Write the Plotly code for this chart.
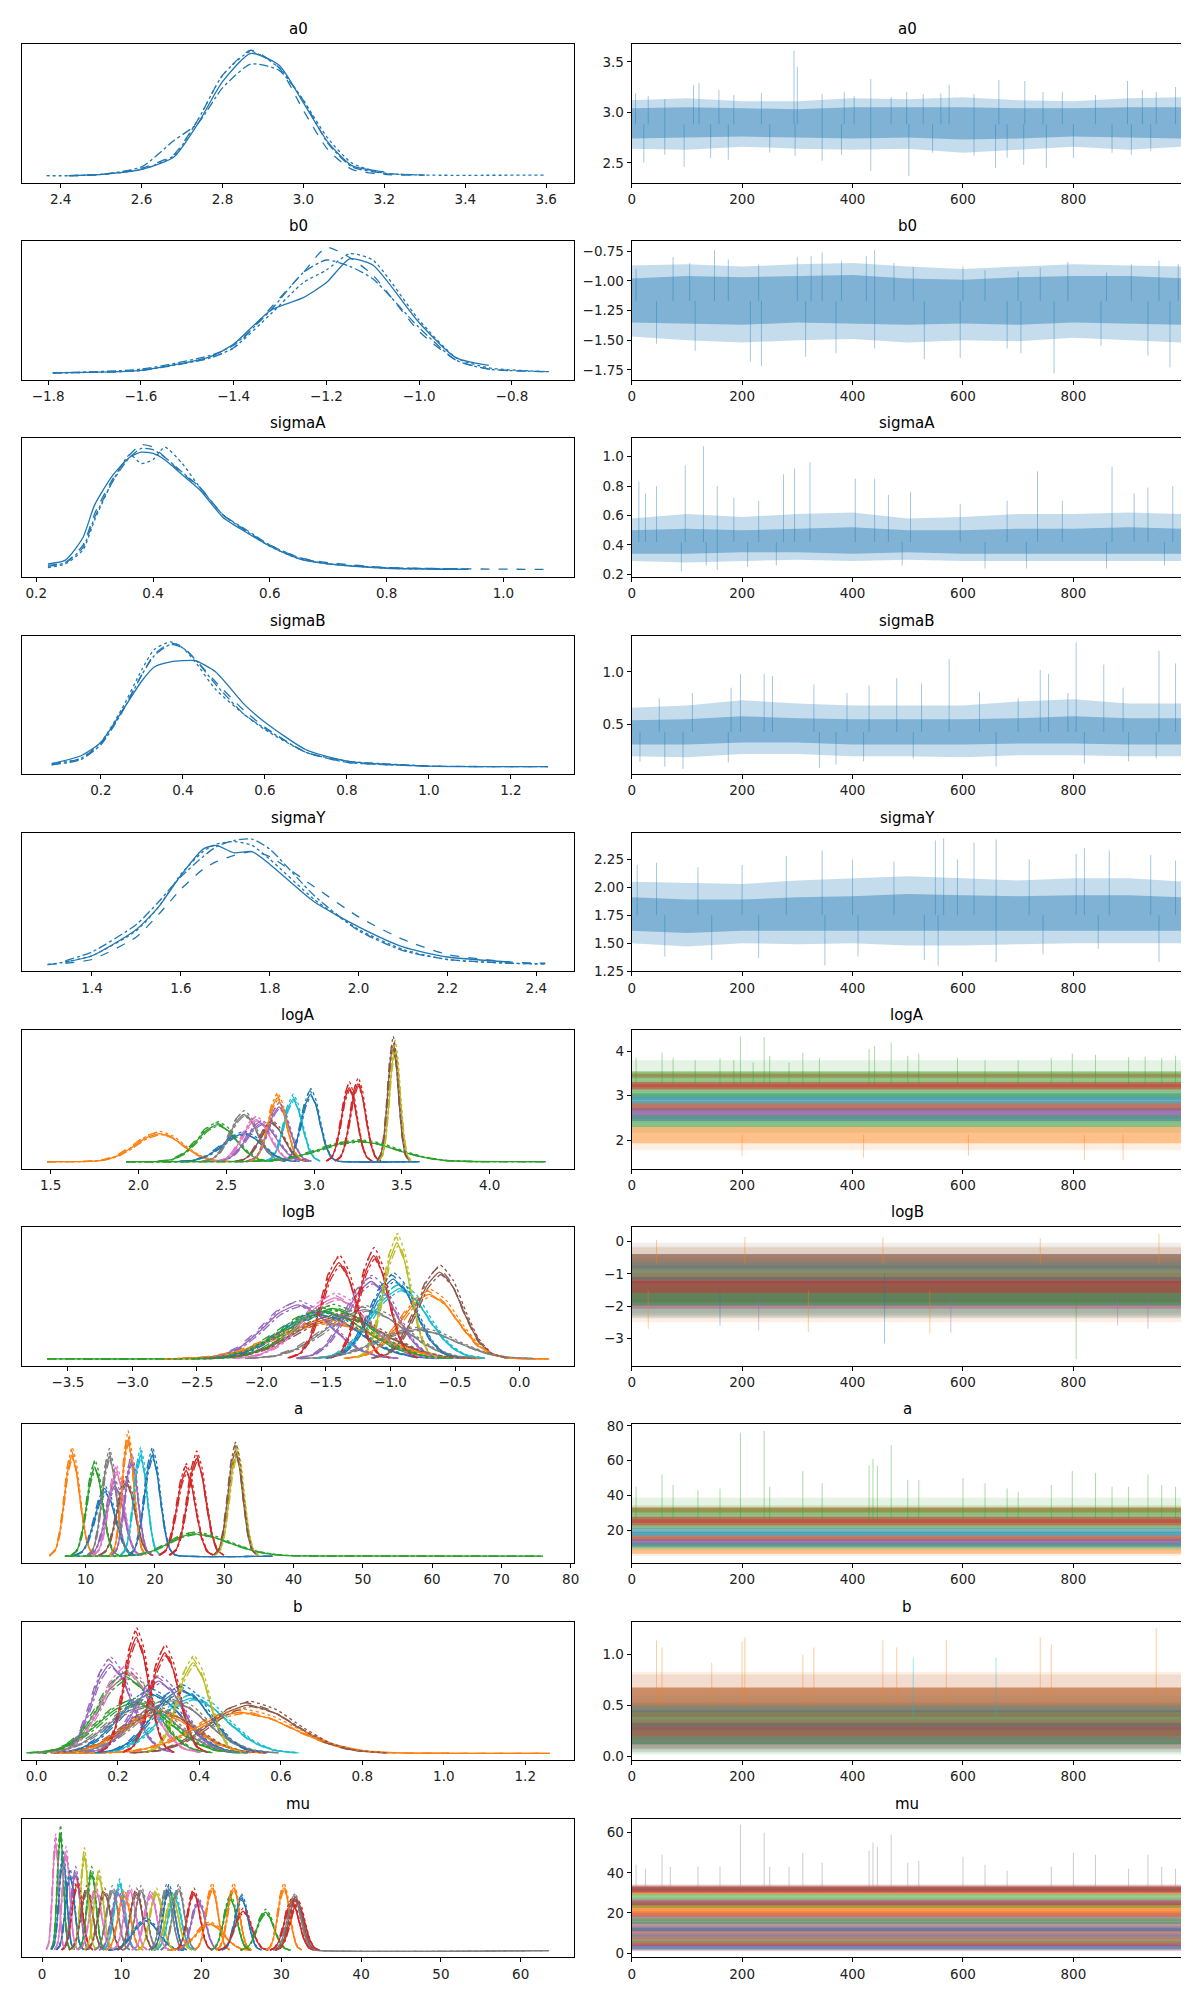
import plotly.graph_objects as go
from plotly.subplots import make_subplots

# matplotlib tab10 cycle (ArviZ default colours)
TAB10 = ["#1f77b4", "#ff7f0e", "#2ca02c", "#d62728", "#9467bd",
         "#8c564b", "#e377c2", "#7f7f7f", "#bcbd22", "#17becf"]
CHAIN_DASH = ["solid", "dash", "dashdot", "dot"]

var_names = ["a0", "b0", "sigmaA", "sigmaB", "sigmaY", "logA", "logB", "a", "b", "mu"]
draw_last = 999
band_draws = [0, 100, 200, 300, 400, 500, 600, 700, 800, 900, 999]
trace_xticks = [0, 200, 400, 600, 800]

# ---------------- a0 ----------------
a0_kde_x = [2.365, 2.42, 2.5, 2.6, 2.68, 2.74, 2.8, 2.87, 2.94, 3.0, 3.06, 3.12, 3.2, 3.3, 3.6]
a0_kde_y = [
    [None, 0.0, 0.01, 0.05, 0.15, 0.42, 0.75, 0.975, 0.88, 0.58, 0.27, 0.08, 0.03, None, None],
    [None, 0.0, 0.01, 0.06, 0.17, 0.45, 0.80, 1.0, 0.86, 0.52, 0.21, 0.05, 0.01, 0.005, None],
    [None, 0.0, 0.01, 0.07, 0.28, 0.42, 0.70, 0.89, 0.84, 0.60, 0.26, 0.07, 0.02, 0.005, None],
    [0.0, 0.0, 0.01, 0.05, 0.16, 0.45, 0.80, 0.99, 0.86, 0.60, 0.30, 0.10, 0.02, 0.005, 0.005],
]
a0_center = 2.88
a0_core_lo = [2.74, 2.75, 2.76, 2.75, 2.74, 2.75, 2.73, 2.74, 2.76, 2.75, 2.74]
a0_core_hi = [3.04, 3.05, 3.04, 3.03, 3.05, 3.05, 3.05, 3.04, 3.04, 3.05, 3.05]
a0_outer_lo = [2.64, 2.63, 2.66, 2.64, 2.63, 2.64, 2.6, 2.63, 2.66, 2.63, 2.66]
a0_outer_hi = [3.12, 3.14, 3.11, 3.11, 3.14, 3.13, 3.15, 3.12, 3.11, 3.14, 3.15]
a0_spikes = [(7, 3.19), (60, 3.13), (112, 3.27), (122, 3.29), (158, 3.22), (235, 3.19),
             (294, 3.61), (300, 3.45), (345, 3.18), (403, 3.16), (433, 3.33), (470, 3.15),
             (498, 3.2), (528, 3.18), (575, 3.27), (665, 3.32), (712, 3.31), (745, 3.2),
             (898, 3.31), (950, 3.2), (985, 3.25), (30, 3.16), (185, 3.17), (385, 3.2),
             (560, 3.19), (620, 3.18), (780, 3.2), (840, 3.17), (925, 3.22),
             (22, 2.5), (95, 2.46), (143, 2.55), (175, 2.53), (296, 2.57), (345, 2.52),
             (433, 2.42), (502, 2.37), (620, 2.57), (659, 2.45), (680, 2.55), (710, 2.48),
             (751, 2.45), (800, 2.55), (870, 2.6), (940, 2.62), (60, 2.58), (250, 2.6),
             (380, 2.58), (545, 2.6), (905, 2.58)]
a0_xticks = [2.4, 2.6, 2.8, 3.0, 3.2, 3.4, 3.6]
a0_yticks = [2.5, 3.0, 3.5]

# ---------------- b0 ----------------
b0_kde_x = [-1.79, -1.6, -1.45, -1.4, -1.32, -1.25, -1.2, -1.15, -1.1, -1.0, -0.92, -0.85, -0.72]
b0_kde_y = [
    [0.0, 0.02, 0.13, 0.23, 0.50, 0.60, 0.72, 0.91, 0.86, 0.40, 0.12, 0.06, None],
    [0.0, 0.02, 0.12, 0.20, 0.52, 0.80, 1.0, 0.92, 0.78, 0.33, 0.10, 0.03, 0.01],
    [0.0, 0.03, 0.14, 0.22, 0.50, 0.80, 0.90, 0.85, 0.75, 0.36, 0.10, 0.03, 0.01],
    [0.0, 0.02, 0.12, 0.20, 0.47, 0.72, 0.82, 0.95, 0.90, 0.42, 0.12, 0.04, 0.01],
]
b0_center = -1.17
b0_core_lo = [-1.35, -1.36, -1.37, -1.35, -1.36, -1.37, -1.36, -1.37, -1.35, -1.36, -1.37]
b0_core_hi = [-0.98, -0.96, -0.97, -0.96, -0.95, -0.98, -0.99, -0.97, -0.96, -0.96, -0.98]
b0_outer_lo = [-1.47, -1.5, -1.52, -1.5, -1.49, -1.52, -1.5, -1.51, -1.48, -1.5, -1.52]
b0_outer_hi = [-0.87, -0.86, -0.88, -0.86, -0.85, -0.88, -0.9, -0.88, -0.86, -0.87, -0.88]
b0_spikes = [(8, -0.9), (75, -0.8), (105, -0.85), (150, -0.74), (175, -0.82), (230, -0.86),
             (300, -0.8), (325, -0.79), (345, -0.76), (380, -0.83), (425, -0.79), (440, -0.74),
             (475, -0.85), (510, -0.88), (600, -0.88), (640, -0.91), (700, -0.92), (740, -0.89),
             (790, -0.84), (860, -0.93), (905, -0.86), (955, -0.83), (990, -0.86),
             (45, -1.53), (115, -1.59), (215, -1.68), (235, -1.72), (315, -1.64), (370, -1.61),
             (440, -1.57), (530, -1.66), (595, -1.65), (680, -1.57), (705, -1.61), (765, -1.78),
             (850, -1.55), (935, -1.63), (975, -1.73)]
b0_xticks = [-1.8, -1.6, -1.4, -1.2, -1.0, -0.8]
b0_yticks = [-1.75, -1.5, -1.25, -1.0, -0.75]

# ---------------- sigmaA ----------------
sigmaA_kde_x = [0.22, 0.25, 0.28, 0.3, 0.33, 0.36, 0.38, 0.4, 0.42, 0.45, 0.48, 0.52,
                0.56, 0.6, 0.65, 0.7, 0.8, 0.94, 1.08]
sigmaA_kde_y = [
    [0.05, 0.08, 0.26, 0.52, 0.75, 0.90, 0.94, 0.93, 0.88, 0.76, 0.64, 0.42, 0.30, 0.19, 0.09, 0.05, 0.015, 0.006, None],
    [0.04, 0.06, 0.20, 0.45, 0.72, 0.92, 1.0, 0.98, 0.90, 0.77, 0.66, 0.44, 0.31, 0.20, 0.10, 0.06, 0.02, 0.01, 0.005],
    [0.03, 0.06, 0.18, 0.42, 0.70, 0.90, 0.97, 0.96, 0.90, 0.78, 0.66, 0.44, 0.32, 0.20, 0.10, 0.05, 0.02, 0.01, None],
    [0.02, 0.05, 0.16, 0.40, 0.70, 0.92, 0.85, 0.88, 0.98, 0.85, 0.66, 0.44, 0.31, 0.19, 0.09, 0.05, 0.015, 0.006, None],
]
sigmaA_center = 0.42
sigmaA_core_lo = [0.34, 0.34, 0.35, 0.35, 0.34, 0.35, 0.34, 0.34, 0.34, 0.34, 0.34]
sigmaA_core_hi = [0.5, 0.51, 0.5, 0.51, 0.52, 0.5, 0.5, 0.51, 0.51, 0.52, 0.51]
sigmaA_outer_lo = [0.29, 0.28, 0.29, 0.3, 0.29, 0.3, 0.29, 0.29, 0.29, 0.29, 0.29]
sigmaA_outer_hi = [0.58, 0.61, 0.59, 0.61, 0.62, 0.58, 0.59, 0.61, 0.61, 0.62, 0.61]
sigmaA_spikes = [(13, 0.83), (25, 0.75), (45, 0.8), (97, 0.94), (130, 1.07), (155, 0.8),
                 (185, 0.72), (230, 0.7), (275, 0.88), (295, 0.92), (323, 0.96), (405, 0.85),
                 (440, 0.85), (465, 0.74), (505, 0.76), (595, 0.68), (680, 0.7), (735, 0.9),
                 (780, 0.7), (870, 0.93), (910, 0.75), (935, 0.79), (980, 0.8),
                 (90, 0.22), (135, 0.26), (155, 0.23), (210, 0.25), (262, 0.26), (490, 0.26),
                 (640, 0.24), (715, 0.24), (860, 0.24), (965, 0.26)]
sigmaA_xticks = [0.2, 0.4, 0.6, 0.8, 1.0]
sigmaA_yticks = [0.2, 0.4, 0.6, 0.8, 1.0]

# ---------------- sigmaB ----------------
sigmaB_kde_x = [0.08, 0.15, 0.2, 0.25, 0.3, 0.33, 0.37, 0.4, 0.43, 0.48, 0.55, 0.6, 0.7, 0.8, 1.0, 1.29]
sigmaB_kde_y = [
    [0.03, 0.09, 0.20, 0.44, 0.69, 0.80, 0.84, 0.85, 0.85, 0.76, 0.50, 0.36, 0.14, 0.05, 0.01, 0.005],
    [0.02, 0.07, 0.19, 0.44, 0.74, 0.90, 0.99, 0.96, 0.86, 0.68, 0.45, 0.32, 0.12, 0.04, 0.01, 0.005],
    [0.02, 0.06, 0.18, 0.43, 0.74, 0.89, 0.98, 0.95, 0.86, 0.66, 0.42, 0.31, 0.12, 0.05, 0.01, None],
    [0.03, 0.07, 0.20, 0.46, 0.78, 0.94, 1.0, 0.95, 0.84, 0.62, 0.42, 0.30, 0.12, 0.04, 0.01, 0.005],
]
sigmaB_center = 0.43
sigmaB_core_lo = [0.31, 0.31, 0.33, 0.33, 0.31, 0.31, 0.31, 0.32, 0.32, 0.31, 0.31]
sigmaB_core_hi = [0.54, 0.55, 0.58, 0.56, 0.55, 0.55, 0.55, 0.56, 0.58, 0.56, 0.56]
sigmaB_outer_lo = [0.2, 0.19, 0.22, 0.22, 0.2, 0.2, 0.19, 0.21, 0.21, 0.2, 0.2]
sigmaB_outer_hi = [0.66, 0.68, 0.73, 0.7, 0.68, 0.68, 0.68, 0.72, 0.74, 0.7, 0.7]
sigmaB_spikes = [(50, 0.75), (110, 0.8), (180, 0.85), (197, 0.98), (240, 0.98), (255, 0.96),
                 (330, 0.88), (390, 0.8), (430, 0.87), (480, 0.94), (525, 0.89), (575, 1.12),
                 (630, 0.81), (700, 0.75), (740, 1.02), (755, 0.98), (790, 0.8), (805, 1.28),
                 (855, 1.07), (890, 0.85), (955, 1.2), (985, 1.08),
                 (15, 0.15), (60, 0.1), (93, 0.08), (175, 0.14), (340, 0.09), (370, 0.12),
                 (420, 0.15), (510, 0.18), (660, 0.1), (820, 0.13), (900, 0.15), (950, 0.18)]
sigmaB_xticks = [0.2, 0.4, 0.6, 0.8, 1.0, 1.2]
sigmaB_yticks = [0.5, 1.0]

# ---------------- sigmaY ----------------
sigmaY_kde_x = [1.3, 1.34, 1.4, 1.5, 1.55, 1.6, 1.65, 1.68, 1.72, 1.76, 1.8, 1.9, 2.0, 2.1, 2.2, 2.34, 2.42]
sigmaY_kde_y = [
    [None, 0.02, 0.07, 0.28, 0.46, 0.71, 0.92, 0.95, 0.89, 0.90, 0.80, 0.50, 0.30, 0.14, 0.06, 0.02, None],
    [0.0, 0.01, 0.04, 0.22, 0.40, 0.60, 0.76, 0.82, 0.87, 0.90, 0.86, 0.62, 0.38, 0.20, 0.08, 0.02, 0.01],
    [None, 0.03, 0.10, 0.32, 0.50, 0.70, 0.86, 0.94, 0.99, 1.0, 0.92, 0.55, 0.27, 0.11, 0.04, 0.01, 0.005],
    [0.0, 0.02, 0.07, 0.27, 0.46, 0.72, 0.90, 0.96, 0.98, 0.95, 0.84, 0.52, 0.28, 0.12, 0.04, 0.01, 0.005],
]
sigmaY_center = 1.75
sigmaY_core_lo = [1.61, 1.59, 1.61, 1.61, 1.61, 1.61, 1.61, 1.61, 1.61, 1.61, 1.61]
sigmaY_core_hi = [1.91, 1.89, 1.89, 1.91, 1.92, 1.94, 1.93, 1.92, 1.93, 1.93, 1.91]
sigmaY_outer_lo = [1.5, 1.47, 1.5, 1.49, 1.5, 1.48, 1.48, 1.49, 1.5, 1.5, 1.5]
sigmaY_outer_hi = [2.05, 2.04, 2.03, 2.06, 2.08, 2.1, 2.08, 2.06, 2.08, 2.08, 2.05]
sigmaY_spikes = [(10, 2.2), (45, 2.22), (120, 2.18), (200, 2.2), (280, 2.28), (345, 2.33),
                 (400, 2.25), (475, 2.23), (550, 2.42), (565, 2.44), (590, 2.25), (620, 2.4),
                 (660, 2.43), (720, 2.25), (805, 2.3), (820, 2.35), (865, 2.33), (940, 2.29),
                 (985, 2.24),
                 (60, 1.38), (145, 1.35), (230, 1.37), (350, 1.3), (410, 1.38), (530, 1.35),
                 (555, 1.3), (660, 1.33), (745, 1.4), (845, 1.45), (955, 1.33)]
sigmaY_xticks = [1.4, 1.6, 1.8, 2.0, 2.2, 2.4]
sigmaY_yticks = [1.25, 1.5, 1.75, 2.0, 2.25]

# ---------------- logA (16 components) ----------------
logA_color = [1, 2, 0, 7, 6, 4, 5, 4, 1, 9, 0, 2, 3, 3, 8, 5]
logA_center = [2.12, 2.45, 2.6, 2.6, 2.67, 2.7, 2.76, 2.8, 2.79, 2.88, 2.98, 3.25, 3.2, 3.25, 3.46, 3.45]
logA_height = [0.22, 0.29, 0.22, 0.37, 0.33, 0.3, 0.3, 0.43, 0.5, 0.49, 0.53, 0.16, 0.58, 0.61, 0.88, 0.91]
logA_wl = [0.16, 0.13, 0.14, 0.09, 0.09, 0.1, 0.08, 0.07, 0.06, 0.06, 0.06, 0.25, 0.05, 0.05, 0.035, 0.035]
logA_wr = [0.15, 0.12, 0.12, 0.09, 0.09, 0.1, 0.08, 0.07, 0.06, 0.06, 0.06, 0.25, 0.05, 0.05, 0.035, 0.035]
logA_tails = [(0, 1.48, None), (10, None, 3.6), (11, 1.93, 4.32)]
logA_spikes = [(11, 8, 3.85), (11, 55, 3.97), (11, 75, 3.85), (11, 115, 3.8), (11, 160, 3.85),
               (11, 185, 3.8), (11, 197, 4.33), (11, 220, 3.75), (11, 240, 4.32), (11, 250, 3.9),
               (11, 285, 3.75), (11, 310, 3.97), (11, 340, 3.85), (11, 430, 4.05), (11, 440, 4.12),
               (11, 470, 4.2), (11, 500, 3.9), (11, 520, 3.95), (11, 590, 3.85), (11, 640, 3.8),
               (11, 700, 3.8), (11, 760, 3.85), (11, 798, 3.95), (11, 840, 3.92), (11, 900, 3.87),
               (11, 930, 3.88), (11, 960, 3.85), (11, 985, 3.9),
               (0, 200, 1.65), (0, 420, 1.6), (0, 610, 1.65), (0, 820, 1.55), (0, 890, 1.55)]
logA_xticks = [1.5, 2.0, 2.5, 3.0, 3.5, 4.0]
logA_yticks = [2, 3, 4]

# ---------------- logB ----------------
logB_color = [1, 2, 0, 7, 6, 4, 5, 4, 1, 9, 0, 2, 3, 3, 8, 5, 7]
logB_center = [-1.5, -1.45, -1.55, -1.2, -1.43, -1.72, -1.4, -1.15, -0.7, -0.93, -0.98, -1.52,
               -1.4, -1.13, -0.95, -0.62, -0.8]
logB_height = [0.31, 0.43, 0.38, 0.42, 0.52, 0.46, 0.36, 0.66, 0.55, 0.6, 0.68, 0.4,
               0.82, 0.88, 0.99, 0.74, 0.25]
logB_wl = [0.45, 0.35, 0.35, 0.35, 0.3, 0.3, 0.4, 0.22, 0.25, 0.25, 0.2, 0.38,
           0.15, 0.13, 0.12, 0.2, 0.35]
logB_wr = [0.45, 0.35, 0.35, 0.35, 0.3, 0.3, 0.4, 0.22, 0.25, 0.25, 0.2, 0.38,
           0.15, 0.13, 0.12, 0.2, 0.35]
logB_tails = [(0, -2.75, None), (1, -3.66, None), (8, None, 0.23)]
logB_spikes = [(1, 805, -3.65), (10, 458, -3.15), (0, 30, -2.7), (5, 230, -2.75), (0, 320, -2.8),
               (5, 578, -2.82), (5, 935, -2.7), (2, 160, -2.6), (0, 540, -2.85), (5, 880, -2.6),
               (8, 205, 0.15), (8, 45, 0.05), (8, 455, 0.15), (8, 740, 0.1), (8, 955, 0.25)]
logB_xticks = [-3.5, -3.0, -2.5, -2.0, -1.5, -1.0, -0.5, 0.0]
logB_yticks = [-3, -2, -1, 0]

# ---------------- a ----------------
a_color = [1, 2, 0, 7, 6, 4, 5, 4, 1, 9, 0, 2, 3, 3, 8, 5]
a_center = [8.0, 11.3, 12.8, 13.4, 14.4, 14.2, 15.8, 16.6, 16.1, 17.9, 19.6, 25.5, 24.5, 26.0, 31.8, 31.6]
a_height = [0.86, 0.76, 0.55, 0.85, 0.72, 0.6, 0.63, 0.81, 0.99, 0.86, 0.86, 0.19, 0.73, 0.83, 0.87, 0.9]
a_wl = [1.2, 1.3, 1.7, 1.2, 1.3, 1.5, 1.5, 1.1, 1.0, 1.1, 1.3, 4.0, 1.5, 1.5, 1.2, 1.2]
a_wr = [1.3, 1.3, 1.7, 1.2, 1.3, 1.5, 1.5, 1.1, 1.0, 1.1, 1.3, 6.0, 1.5, 1.5, 1.2, 1.2]
a_tails = [(0, 4.8, None), (10, None, 37.0), (11, 7.0, 76.0)]
a_spikes = [(11, 8, 45), (11, 55, 52), (11, 75, 46), (11, 120, 43), (11, 160, 44), (11, 197, 76),
            (11, 240, 77), (11, 250, 45), (11, 310, 54), (11, 345, 47), (11, 430, 57), (11, 437, 61),
            (11, 445, 57), (11, 470, 69), (11, 500, 49), (11, 520, 49), (11, 600, 50), (11, 640, 47),
            (11, 680, 44), (11, 700, 42), (11, 760, 46), (11, 798, 54), (11, 840, 53), (11, 870, 45),
            (11, 900, 45), (11, 935, 52), (11, 960, 46), (11, 985, 45)]
a_xticks = [10, 20, 30, 40, 50, 60, 70, 80]
a_yticks = [20, 40, 60, 80]

# ---------------- b ----------------
b_color = [1, 2, 0, 7, 6, 4, 5, 4, 1, 9, 0, 2, 3, 3, 8, 5, 7]
b_center = [0.5, 0.22, 0.28, 0.33, 0.22, 0.18, 0.3, 0.3, 0.3, 0.38, 0.355, 0.24, 0.245, 0.315, 0.385, 0.52, 0.26]
b_height = [0.29, 0.54, 0.42, 0.37, 0.58, 0.63, 0.3, 0.51, 0.28, 0.39, 0.45, 0.36, 0.82, 0.71, 0.64, 0.34, 0.33]
b_wl = [0.13, 0.08, 0.09, 0.1, 0.07, 0.05, 0.1, 0.07, 0.1, 0.09, 0.08, 0.1, 0.035, 0.04, 0.045, 0.11, 0.1]
b_wr = [0.15, 0.08, 0.09, 0.1, 0.07, 0.06, 0.1, 0.07, 0.1, 0.1, 0.08, 0.1, 0.035, 0.04, 0.045, 0.13, 0.1]
b_tails = [(0, 0.06, 1.26), (1, 0.025, None)]
b_spikes = [(0, 45, 1.14), (0, 55, 1.07), (0, 145, 0.92), (0, 200, 1.13), (0, 205, 1.17),
            (0, 310, 1.0), (0, 330, 1.07), (0, 455, 1.14), (0, 480, 1.07), (0, 570, 1.14),
            (0, 740, 1.17), (0, 760, 1.1), (0, 950, 1.26), (9, 510, 0.97), (9, 660, 0.97)]
b_xticks = [0.0, 0.2, 0.4, 0.6, 0.8, 1.0, 1.2]
b_yticks = [0.0, 0.5, 1.0]

# ---------------- mu (42 components) ----------------
mu_color = [6, 2, 0, 6, 0, 4, 3, 8, 5, 2, 8, 6, 5, 9, 7, 4, 1, 6, 5, 7,
            0, 8, 6, 7, 0, 9, 8, 7, 4, 3, 1, 1, 2, 1, 0, 3, 2, 1, 3, 7, 3, 5]
mu_center = [1.7, 2.3, 2.6, 3.0, 3.5, 4.2, 4.4, 5.3, 5.6, 6.2, 7.1, 6.7, 7.8, 9.7, 8.8, 9.5,
             10.3, 11.0, 11.8, 12.4, 13.0, 14.3, 13.6, 15.6, 15.9, 16.6, 16.3, 17.1, 19.6, 19.0,
             21.0, 21.3, 23.6, 24.0, 25.0, 25.2, 28.0, 30.3, 31.3, 31.6, 32.0, 31.8]
mu_height = [0.93, 1.0, 0.8, 0.83, 0.65, 0.67, 0.57, 0.82, 0.52, 0.67, 0.65, 0.52, 0.5, 0.57,
             0.52, 0.5, 0.48, 0.52, 0.5, 0.52, 0.26, 0.5, 0.48, 0.53, 0.53, 0.46, 0.45, 0.53,
             0.42, 0.5, 0.23, 0.54, 0.45, 0.54, 0.45, 0.34, 0.33, 0.54, 0.42, 0.45, 0.41, 0.44]
mu_width = [0.45, 0.45, 0.55, 0.55, 0.65, 0.65, 0.75, 0.55, 0.85, 0.65, 0.7, 0.85, 0.9, 0.8,
            0.85, 0.9, 0.9, 0.85, 0.9, 0.85, 1.8, 0.9, 0.9, 0.85, 0.85, 0.95, 0.95, 0.85,
            1.0, 0.9, 2.0, 0.85, 0.95, 0.85, 0.95, 1.2, 1.2, 0.85, 1.05, 1.0, 1.05, 1.0]
mu_tails = [(39, None, 63.5)]
mu_spikes = [(39, 8, 44), (39, 25, 42), (39, 55, 49), (39, 70, 43), (39, 120, 43), (39, 160, 43),
             (39, 197, 64), (39, 240, 60), (39, 250, 43), (39, 285, 43), (39, 310, 50), (39, 345, 45),
             (39, 430, 51), (39, 437, 55), (39, 445, 53), (39, 470, 59), (39, 500, 45), (39, 520, 46),
             (39, 600, 48), (39, 640, 44), (39, 680, 41), (39, 760, 43), (39, 800, 50), (39, 840, 49),
             (39, 900, 42), (39, 935, 49), (39, 960, 43), (39, 985, 42)]
mu_xticks = [0, 10, 20, 30, 40, 50, 60]
mu_yticks = [0, 20, 40, 60]

# axis ranges (matplotlib autoscale of the original)
kde_xrange = {"a0": [2.305, 3.669], "b0": [-1.856, -0.666], "sigmaA": [0.176, 1.121],
              "sigmaB": [0.008, 1.354], "sigmaY": [1.243, 2.485], "logA": [1.338, 4.481],
              "logB": [-3.854, 0.423], "a": [0.84, 80.5], "b": [-0.035, 1.32], "mu": [-2.49, 66.7]}
trace_yrange = {"a0": [2.304, 3.676], "b0": [-1.834, -0.666], "sigmaA": [0.182, 1.124],
                "sigmaB": [0.029, 1.344], "sigmaY": [1.247, 2.488], "logA": [1.356, 4.48],
                "logB": [-3.85, 0.45], "a": [1.2, 80.8], "b": [-0.036, 1.324], "mu": [-2.2, 66.9]}

# bell profile used to draw each component's density (offsets in half-widths)
BELL_U = [-2.6, -2.0, -1.5, -1.0, -0.5, 0.0, 0.5, 1.0, 1.5, 2.0, 2.6]
BELL_V = [0.01, 0.06, 0.21, 0.5, 0.84, 1.0, 0.84, 0.5, 0.21, 0.06, 0.01]
CHAIN_SCALE = [1.0, 1.05, 0.97, 1.08]
CHAIN_SHIFT = [0.0, -0.05, 0.05, 0.03]

W, H = 1189, 1989
ROW_TOP, ROW_STEP, BOX_H = 29.2, 198.6, 139.6
LEFT_DOM = [10.3 / W, 566.4 / W]
RIGHT_DOM = [624.4 / W, 1180.2 / W]
FONT = "DejaVu Sans"


def rgba(hex_color, a):
    h = hex_color.lstrip("#")
    return "rgba(%d,%d,%d,%.2f)" % (int(h[0:2], 16), int(h[2:4], 16), int(h[4:6], 16), a)


fig = make_subplots(rows=10, cols=2)


def add_fill(row, col, xs, lo, hi, color):
    fig.add_trace(go.Scatter(x=list(xs) + list(xs)[::-1], y=list(hi) + list(lo)[::-1],
                             fill="toself", fillcolor=color, mode="lines", line=dict(width=0),
                             hoverinfo="skip", showlegend=False), row=row, col=col)


def add_spikes(row, pts, color):
    xs, ys = [], []
    for d, base, v in pts:
        xs += [d, d, None]
        ys += [base, v, None]
    fig.add_trace(go.Scatter(x=xs, y=ys, mode="lines", line=dict(color=color, width=1),
                             hoverinfo="skip", showlegend=False), row=row, col=2)


single = {
    "a0": (a0_kde_x, a0_kde_y, a0_center, a0_core_lo, a0_core_hi, a0_outer_lo, a0_outer_hi, a0_spikes),
    "b0": (b0_kde_x, b0_kde_y, b0_center, b0_core_lo, b0_core_hi, b0_outer_lo, b0_outer_hi, b0_spikes),
    "sigmaA": (sigmaA_kde_x, sigmaA_kde_y, sigmaA_center, sigmaA_core_lo, sigmaA_core_hi,
               sigmaA_outer_lo, sigmaA_outer_hi, sigmaA_spikes),
    "sigmaB": (sigmaB_kde_x, sigmaB_kde_y, sigmaB_center, sigmaB_core_lo, sigmaB_core_hi,
               sigmaB_outer_lo, sigmaB_outer_hi, sigmaB_spikes),
    "sigmaY": (sigmaY_kde_x, sigmaY_kde_y, sigmaY_center, sigmaY_core_lo, sigmaY_core_hi,
               sigmaY_outer_lo, sigmaY_outer_hi, sigmaY_spikes),
}
multi = {
    "logA": (logA_color, logA_center, logA_height, logA_wl, logA_wr, logA_tails, logA_spikes),
    "logB": (logB_color, logB_center, logB_height, logB_wl, logB_wr, logB_tails, logB_spikes),
    "a": (a_color, a_center, a_height, a_wl, a_wr, a_tails, a_spikes),
    "b": (b_color, b_center, b_height, b_wl, b_wr, b_tails, b_spikes),
    "mu": (mu_color, mu_center, mu_height, mu_width, mu_width, mu_tails, mu_spikes),
}
ticks = {
    "a0": (a0_xticks, a0_yticks, ".1f", ".1f"), "b0": (b0_xticks, b0_yticks, ".1f", ".2f"),
    "sigmaA": (sigmaA_xticks, sigmaA_yticks, ".1f", ".1f"),
    "sigmaB": (sigmaB_xticks, sigmaB_yticks, ".1f", ".1f"),
    "sigmaY": (sigmaY_xticks, sigmaY_yticks, ".1f", ".2f"),
    "logA": (logA_xticks, logA_yticks, ".1f", "d"), "logB": (logB_xticks, logB_yticks, ".1f", "d"),
    "a": (a_xticks, a_yticks, "d", "d"), "b": (b_xticks, b_yticks, ".1f", ".1f"),
    "mu": (mu_xticks, mu_yticks, "d", "d"),
}

kde_ymax = {}
blue = TAB10[0]

for name, (kx, ky, center, clo, chi, olo, ohi, spikes) in single.items():
    r = var_names.index(name) + 1
    for ch in range(4):
        fig.add_trace(go.Scatter(x=kx, y=ky[ch], mode="lines", connectgaps=False,
                                 line=dict(color=blue, width=1.3, dash=CHAIN_DASH[ch],
                                           shape="spline", smoothing=0.6),
                                 hoverinfo="skip", showlegend=False), row=r, col=1)
    kde_ymax[name] = max(v for yy in ky for v in yy if v is not None)
    add_fill(r, 2, band_draws, olo, ohi, rgba(blue, 0.26))
    add_fill(r, 2, band_draws, clo, chi, rgba(blue, 0.42))
    add_spikes(r, [(d, center, v) for d, v in spikes], rgba(blue, 0.4))

for name, (cols, cen, hgt, wl, wr, tails, spikes) in multi.items():
    r = var_names.index(name) + 1
    tail_map = {i: (lo, hi) for i, lo, hi in tails}
    ymax = 0.0
    for ch in range(4):
        for i in range(len(cen)):
            xs, ys = [], []
            for u, v in zip(BELL_U, BELL_V):
                w = wl[i] if u < 0 else wr[i]
                xs.append(cen[i] + (u + CHAIN_SHIFT[ch]) * w)
                ys.append(hgt[i] * v * CHAIN_SCALE[ch])
            lo, hi = tail_map.get(i, (None, None))
            if lo is not None:
                xs.insert(0, lo)
                ys.insert(0, 0.0)
            if hi is not None:
                xs.append(hi)
                ys.append(0.0)
            ymax = max(ymax, max(ys))
            fig.add_trace(go.Scatter(x=xs, y=ys, mode="lines",
                                     line=dict(color=TAB10[cols[i]], width=1.3, dash=CHAIN_DASH[ch],
                                               shape="spline", smoothing=0.5),
                                     hoverinfo="skip", showlegend=False), row=r, col=1)
    kde_ymax[name] = ymax
    for i in range(len(cen)):
        c = TAB10[cols[i]]
        add_fill(r, 2, [0, draw_last], [cen[i] - 2.2 * wl[i]] * 2, [cen[i] + 2.2 * wr[i]] * 2, rgba(c, 0.12))
    for i in range(len(cen)):
        c = TAB10[cols[i]]
        add_fill(r, 2, [0, draw_last], [cen[i] - 1.2 * wl[i]] * 2, [cen[i] + 1.2 * wr[i]] * 2, rgba(c, 0.42))
    for i in sorted(set(s[0] for s in spikes)):
        pts = [(d, cen[i], v) for k, d, v in spikes if k == i]
        add_spikes(r, pts, rgba(TAB10[cols[i]], 0.4))

axis_common = dict(showline=True, linecolor="black", linewidth=1, mirror=True, showgrid=False,
                   zeroline=False, ticks="outside", ticklen=4, tickwidth=1, tickcolor="black",
                   tickfont=dict(family=FONT, size=13.5, color="#222222"))

for k, name in enumerate(var_names):
    r = k + 1
    top = ROW_TOP + k * ROW_STEP
    ydom = [1 - (top + BOX_H) / H, 1 - top / H]
    xt, yt, xf, yf = ticks[name]
    ym = kde_ymax[name]
    fig.update_xaxes(domain=LEFT_DOM, range=kde_xrange[name], tickmode="array", tickvals=xt,
                     tickformat=xf, row=r, col=1, **axis_common)
    fig.update_yaxes(domain=ydom, range=[-0.055 * ym, 1.05 * ym], showticklabels=False,
                     row=r, col=1, **{**axis_common, "ticks": ""})
    fig.update_xaxes(domain=RIGHT_DOM, range=[0, draw_last], tickmode="array", tickvals=trace_xticks,
                     row=r, col=2, **axis_common)
    fig.update_yaxes(domain=ydom, range=trace_yrange[name], tickmode="array", tickvals=yt,
                     tickformat=yf, row=r, col=2, **axis_common)
    for dom in (LEFT_DOM, RIGHT_DOM):
        fig.add_annotation(x=(dom[0] + dom[1]) / 2, y=1 - (top - 4) / H, xref="paper", yref="paper",
                           text=name, showarrow=False, xanchor="center", yanchor="bottom",
                           font=dict(family=FONT, size=15, color="black"))

fig.update_layout(width=W, height=H, margin=dict(l=0, r=0, t=0, b=0),
                  paper_bgcolor="white", plot_bgcolor="white", showlegend=False)

fig.write_html("out.html")
